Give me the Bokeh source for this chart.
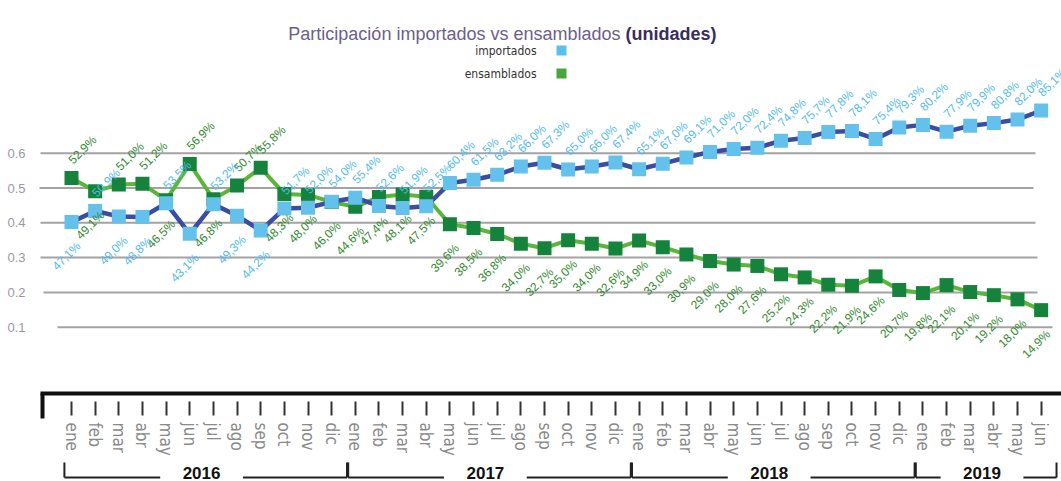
import math
from bokeh.plotting import figure
from bokeh.models import (LinearAxis, FixedTicker, Range1d, Label, BoxAnnotation,
                          ColumnDataSource)
from bokeh.core.properties import value
from bokeh.embed import file_html
from bokeh.resources import INLINE

# ---------------- data ----------------
months = (["ene", "feb", "mar", "abr", "may", "jun", "jul", "ago", "sep", "oct", "nov", "dic"] * 3
          + ["ene", "feb", "mar", "abr", "may", "jun"])
years = ["2016", "2017", "2018", "2019"]
year_len = [12, 12, 12, 6]
importados = [47.1, 50.9, 49.0, 48.8, 53.5, 43.1, 53.2, 49.3, 44.2, 51.7, 52.0, 54.0,
              55.4, 52.6, 51.9, 52.5, 60.4, 61.5, 63.2, 66.0, 67.3, 65.0, 66.0, 67.4,
              65.1, 67.0, 69.1, 71.0, 72.0, 72.4, 74.8, 75.7, 77.8, 78.1, 75.4, 79.3,
              80.2, 77.9, 79.9, 80.8, 82.0, 85.1]
ensamblados = [52.9, 49.1, 51.0, 51.2, 46.5, 56.9, 46.8, 50.7, 55.8, 48.3, 48.0, 46.0,
               44.6, 47.4, 48.1, 47.5, 39.6, 38.5, 36.8, 34.0, 32.7, 35.0, 34.0, 32.6,
               34.9, 33.0, 30.9, 29.0, 28.0, 27.6, 25.2, 24.3, 22.2, 21.9, 24.6, 20.7,
               19.8, 22.1, 20.1, 19.2, 18.0, 14.9]
y_ticks = [0.1, 0.2, 0.3, 0.4, 0.5, 0.6]

COND = "'DejaVu Sans Condensed', 'Liberation Sans', sans-serif"

# ---------------- geometry ----------------
W, H = 1061, 481
X0, DX = 71.0, 23.65          # pixel of first month, pixel per month
Y06, PY = 152.7, 348.0        # pixel of 0.6, pixels per unit
def xd(px): return (px - X0) / DX
def yd(py): return 0.6 - (py - Y06) / PY
# secondary (hidden) scale used by the importados series
SA, SB = 0.844, 0.0045

p = figure(width=W, height=H, output_backend="svg", toolbar_location=None,
           x_axis_type=None, y_axis_type=None,
           x_range=Range1d(xd(0), xd(W)), y_range=Range1d(yd(H), yd(0)),
           min_border=0, min_border_left=0, min_border_right=0,
           min_border_top=0, min_border_bottom=0)
p.outline_line_color = None
p.background_fill_color = "white"
p.border_fill_color = "white"
p.extra_y_ranges = {"imp": Range1d((yd(H) - SB) / SA, (yd(0) - SB) / SA)}

n = len(months)
idx = list(range(n))

# grid lines (pixel extents of each drawn rule, from 0.1 up to 0.6)
grid_left_px = [57, 43, 40, 40, 39, 40]
grid_right_px = [1052, 1037, 1037, 1035, 1033, 1035]
p.segment(x0=[xd(v) for v in grid_left_px], x1=[xd(v) for v in grid_right_px],
          y0=y_ticks, y1=y_ticks, line_color="#a3a3a3", line_width=2)

# axes
yaxis = LinearAxis(ticker=FixedTicker(ticks=y_ticks), fixed_location=xd(40),
                   axis_line_color=None, major_tick_line_color=None, minor_tick_line_color=None,
                   major_tick_out=0, major_tick_in=0, major_label_standoff=15,
                   major_label_text_font="Liberation Sans",
                   major_label_text_font_size="13px", major_label_text_color="#9d97a6",
                   major_label_overrides={t: f"{t:.1f}" for t in y_ticks})
p.add_layout(yaxis, "left")

xaxis = LinearAxis(ticker=FixedTicker(ticks=idx), fixed_location=yd(393),
                   bounds=(xd(40), xd(W)),
                   axis_line_color="#111111", axis_line_width=4,
                   major_tick_line_color="#333333", major_tick_line_width=2,
                   major_tick_in=-8, major_tick_out=22, minor_tick_line_color=None,
                   major_label_orientation="vertical", major_label_standoff=7,
                   major_label_text_font=COND,
                   major_label_text_font_size="17px", major_label_text_color="#8a8a8a",
                   major_label_overrides={i: m for i, m in zip(idx, months)})
p.add_layout(xaxis, "below")

# left drop of the axis bracket
p.segment(x0=[xd(42)], x1=[xd(42)], y0=[yd(393)], y1=[yd(418)], line_color="#111111", line_width=4)

# year brackets
start = 0
bx0, bx1, by0, by1 = [], [], [], []
yx, yy = [], []
ytop, ybot = yd(462), yd(477)
for yr, ln in zip(years, year_len):
    i0, i1 = start, start + ln - 1
    left, right = i0 - 0.3, i1 + 0.65
    c = (i0 + i1) / 2
    gap = 1.75
    bx0 += [left, right, left, c + gap]
    bx1 += [left, right, c - gap, right]
    by0 += [ytop, ytop, ybot, ybot]
    by1 += [ybot, ybot, ybot, ybot]
    yx.append(c)
    yy.append(yd(466))
    start += ln
p.segment(x0=bx0, x1=bx1, y0=by0, y1=by1, line_color="#222222", line_width=2)
p.text(x=yx, y=yy, text=years, text_align="center", text_baseline="top",
       text_font=value("Liberation Sans"), text_font_style="bold",
       text_font_size="17px", text_color="#111111")

# series
ens = [v / 100 for v in ensamblados]
imp = [v / 100 for v in importados]
p.line(idx, ens, line_color="#5cb53b", line_width=4)
p.scatter(idx, ens, marker="square", size=14, fill_color="#15833b", line_color=None)
p.line(idx, imp, line_color="#3b4da0", line_width=4.5, y_range_name="imp")
p.scatter(idx, imp, marker="square", size=14, fill_color="#63c1ec", line_color=None,
          y_range_name="imp")

# data labels
def fmt(v):
    return f"{v:.1f}%".replace(".", ",")

def labels(vals, other, color, rng):
    up = ColumnDataSource(dict(x=[i for i in idx if vals[i] > other[i]],
                               y=[vals[i] / 100 for i in idx if vals[i] > other[i]],
                               t=[fmt(vals[i]) for i in idx if vals[i] > other[i]]))
    dn = ColumnDataSource(dict(x=[i for i in idx if vals[i] <= other[i]],
                               y=[vals[i] / 100 for i in idx if vals[i] <= other[i]],
                               t=[fmt(vals[i]) for i in idx if vals[i] <= other[i]]))
    kw = dict(text="t", angle=math.pi / 4, text_font=value("Liberation Sans"),
              text_font_size="12px", text_color=color, text_baseline="middle")
    if rng:
        kw["y_range_name"] = rng
    p.text(x="x", y="y", source=up, text_align="left", x_offset=-1, y_offset=-16, **kw)
    p.text(x="x", y="y", source=dn, text_align="right", x_offset=7, y_offset=22, **kw)

labels(ensamblados, importados, "#338a30", None)
labels(importados, ensamblados, "#55bce8", "imp")

# title
p.add_layout(Label(x=620, y=H - 33, x_units="screen", y_units="screen",
                   text="Participación importados vs ensamblados", text_align="right",
                   text_baseline="alphabetic", text_font="Liberation Sans",
                   text_font_size="18px", text_color="#6c5f8d"))
p.add_layout(Label(x=625, y=H - 33, x_units="screen", y_units="screen",
                   text="(unidades)", text_align="left", text_baseline="alphabetic",
                   text_font="Liberation Sans", text_font_style="bold",
                   text_font_size="18px", text_color="#3a2c5e"))

# legend
for lab, col, cy in [("importados", "#5cc0ec", 50), ("ensamblados", "#4aa53a", 73)]:
    p.add_layout(Label(x=536, y=H - cy, x_units="screen", y_units="screen", text=lab,
                       text_align="right", text_baseline="middle",
                       text_font=COND, text_font_size="12px",
                       text_color="#333333"))
    p.add_layout(BoxAnnotation(left=556, right=566, top=H - cy + 5, bottom=H - cy - 5,
                               left_units="screen", right_units="screen",
                               top_units="screen", bottom_units="screen",
                               fill_color=col, fill_alpha=1, line_color=None))

open("out.html", "w").write(file_html(p, INLINE))
